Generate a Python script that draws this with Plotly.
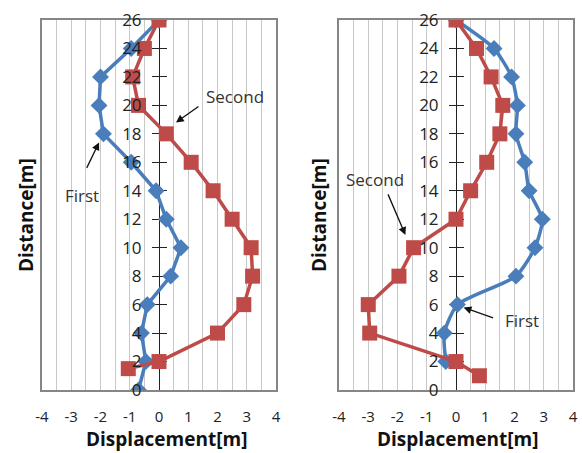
import plotly.graph_objects as go

# ---------------- data ----------------
dist_first_L = [26, 24, 22, 20, 18, 16, 14, 12, 10, 8, 6, 4, 2, 0]
first_L = [0, -0.95, -2.0, -2.05, -1.9, -0.95, -0.1, 0.25, 0.75, 0.4, -0.4, -0.6, -0.45, -0.7]
dist_second_L = [26, 24, 22, 20, 18, 16, 14, 12, 10, 8, 6, 4, 2, 1.5]
second_L = [0, -0.5, -0.9, -0.7, 0.25, 1.1, 1.85, 2.5, 3.15, 3.2, 2.9, 2.0, 0, -1.05]

dist_first_R = [26, 24, 22, 20, 18, 16, 14, 12, 10, 8, 6, 4, 2]
first_R = [0, 1.3, 1.9, 2.1, 2.05, 2.35, 2.5, 2.95, 2.7, 2.05, 0.05, -0.4, -0.35]
dist_second_R = [26, 24, 22, 20, 18, 16, 14, 12, 10, 8, 6, 4, 2, 1]
second_R = [0, 0.7, 1.2, 1.6, 1.5, 1.05, 0.5, 0, -1.45, -1.95, -3.0, -2.95, 0, 0.8]

x_ticks = [-4, -3, -2, -1, 0, 1, 2, 3, 4]
x_ticktext = ["-4", "-3", "-2", "-1", "0", "1", "2", "3", "4"]
y_ticks = list(range(0, 27, 2))
x_title = "Displacement[m]"
y_title = "Distance[m]"

BLUE = "#4A7EBB"
RED = "#BE4B48"
FONT = "Open Sans"
W, H = 582, 453

dom1 = [42 / W, 276 / W]
dom2 = [339 / W, 573 / W]
ydom = [1 - 390 / H, 1 - 20 / H]

fig = go.Figure()

# invisible traces so the mid-plot y axes get drawn
for xa, ya in (("x", "y3"), ("x", "y4"), ("x", "y5"),
               ("x2", "y6"), ("x2", "y7"), ("x2", "y8")):
    fig.add_trace(go.Scatter(x=[None], y=[None], xaxis=xa, yaxis=ya, mode="markers",
                             showlegend=False, hoverinfo="skip"))

def add_series(xv, yv, xa, ya, color, symbol, size, shape="linear"):
    fig.add_trace(go.Scatter(
        x=xv, y=yv, xaxis=xa, yaxis=ya, mode="lines+markers",
        line=dict(color=color, width=3.5, shape=shape, smoothing=0.6),
        marker=dict(symbol=symbol, size=size, color=color),
        showlegend=False, hoverinfo="skip"))

add_series(first_L, dist_first_L, "x", "y", BLUE, "diamond", 13)
add_series(second_L, dist_second_L, "x", "y", RED, "square", 15)
add_series(first_R, dist_first_R, "x2", "y2", BLUE, "diamond", 13, "spline")
add_series(second_R, dist_second_R, "x2", "y2", RED, "square", 15)

tickfont_x = dict(family=FONT, size=15, color="#222")
tickfont_y = dict(family=FONT, size=17, color="#222")

def xaxis(dom, anchor):
    return dict(domain=dom, anchor=anchor, range=[-4, 4], tickvals=x_ticks, ticktext=x_ticktext,
                showgrid=True, gridcolor="#C8C8C8", gridwidth=1,
                minor=dict(dtick=0.5, tick0=0, showgrid=True, gridcolor="#C8C8C8", gridwidth=1),
                zeroline=False, showline=True, mirror=True, linecolor="#868686", linewidth=1.5,
                ticks="", ticklabelstandoff=12, tickfont=tickfont_x,
                automargin=False, fixedrange=True)

def yaxis_box(anchor):
    return dict(domain=ydom, anchor=anchor, range=[0, 26], showgrid=False, zeroline=False,
                showline=True, mirror=True, linecolor="#868686", linewidth=1.5,
                showticklabels=False, ticks="", automargin=False, fixedrange=True)

def yaxis_mid(over, pos, labels, ticks, line, layer, tickcolor="#222"):
    return dict(overlaying=over, anchor="free", position=pos, range=[0, 26], tickvals=y_ticks,
                showgrid=False, zeroline=False, showline=line, linecolor="#222", linewidth=1.2,
                ticks=ticks, ticklen=7, tickcolor=tickcolor, tickwidth=1.2,
                showticklabels=labels, tickfont=tickfont_y, ticklabelstandoff=7,
                layer=layer, automargin=False, fixedrange=True)

p1 = (dom1[0] + dom1[1]) / 2
p2 = (dom2[0] + dom2[1]) / 2
fig.update_layout(
    width=W, height=H, margin=dict(l=0, r=0, t=0, b=0, autoexpand=False),
    paper_bgcolor="white", plot_bgcolor="white",
    xaxis=xaxis(dom1, "y"), yaxis=yaxis_box("x"),
    xaxis2=xaxis(dom2, "y2"), yaxis2=yaxis_box("x2"),
    # labels above traces, line + ticks below traces
    yaxis3=yaxis_mid("y", p1, True, "outside", False, "above traces", "rgba(0,0,0,0)"),
    yaxis4=yaxis_mid("y", p1, False, "inside", True, "below traces"),
    yaxis5=yaxis_mid("y", p1, False, "outside", False, "below traces"),
    yaxis6=yaxis_mid("y2", p2, True, "outside", False, "above traces", "rgba(0,0,0,0)"),
    yaxis7=yaxis_mid("y2", p2, False, "inside", True, "below traces"),
    yaxis8=yaxis_mid("y2", p2, False, "outside", False, "below traces"),
)

title_font = dict(family=FONT, size=19, color="#111")
# y-axis titles
for xc in (26, 319):
    fig.add_annotation(text="<b>" + y_title + "</b>", xref="paper", yref="paper",
                       x=xc / W, y=1 - 215 / H, xanchor="center", yanchor="middle",
                       textangle=-90, showarrow=False, font=title_font)
# x-axis titles
for xc in (166, 457):
    fig.add_annotation(text="<b>" + x_title + "</b>", xref="paper", yref="paper",
                       x=xc / W, y=1 - 439 / H, xanchor="center", yanchor="middle",
                       showarrow=False, font=title_font)

lab_font = dict(family=FONT, size=17, color="#333")
# text labels
fig.add_annotation(text="Second", x=2.6, y=20.6, xref="x", yref="y", showarrow=False, font=lab_font)
fig.add_annotation(text="First", x=-2.63, y=13.7, xref="x", yref="y", showarrow=False, font=lab_font)
fig.add_annotation(text="Second", x=-2.76, y=14.8, xref="x2", yref="y2", showarrow=False, font=lab_font)
fig.add_annotation(text="First", x=2.26, y=4.9, xref="x2", yref="y2", showarrow=False, font=lab_font)
# arrows
arrow = dict(text="", showarrow=True, arrowhead=2, arrowsize=1.2, arrowwidth=1.3, arrowcolor="#111")
fig.add_annotation(x=0.58, y=18.8, xref="x", yref="y", ax=24, ay=-17, **arrow)
fig.add_annotation(x=-2.05, y=17.4, xref="x", yref="y", ax=-13, ay=27, **arrow)
fig.add_annotation(x=-1.73, y=10.9, xref="x2", yref="y2", ax=-18, ay=-42, **arrow)
fig.add_annotation(x=0.26, y=5.8, xref="x2", yref="y2", ax=31, ay=11, **arrow)

fig.write_html("out.html", config={"displayModeBar": False},
               post_script="document.body.style.margin='0';")
